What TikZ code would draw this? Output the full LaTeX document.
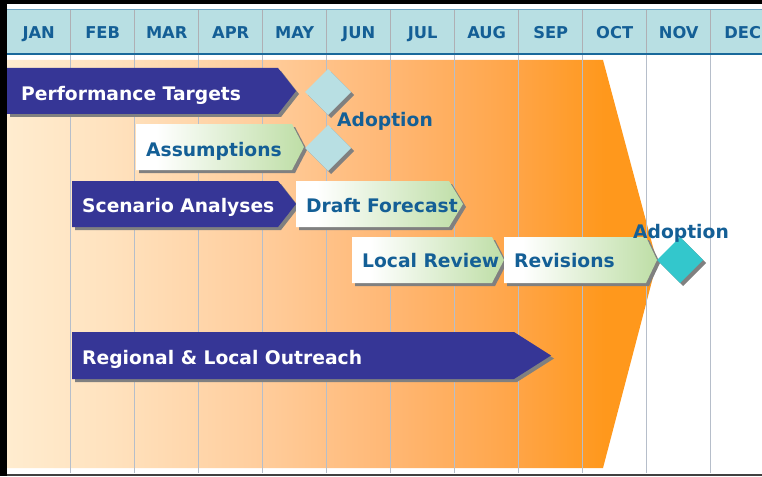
\documentclass[tikz,border=0pt]{standalone}
\usepackage{fontspec}
\setmainfont{DejaVu Sans}
\definecolor{hdrblue}{RGB}{184,223,227}
\definecolor{hdrtop}{RGB}{110,165,195}
\definecolor{hdrbot}{RGB}{25,105,155}
\definecolor{txtblue}{RGB}{20,95,150}
\definecolor{navy}{RGB}{54,54,150}
\definecolor{shadowgray}{RGB}{128,128,128}
\definecolor{grn}{RGB}{190,222,166}
\definecolor{teal}{RGB}{51,199,204}
\definecolor{gridln}{RGB}{182,190,202}
\definecolor{hdrgrid}{RGB}{175,175,180}
\definecolor{oA}{RGB}{255,236,207}
\definecolor{oB}{RGB}{255,226,190}
\definecolor{oC}{RGB}{255,206,158}
\definecolor{oD}{RGB}{255,184,118}
\definecolor{oE}{RGB}{255,165,72}
\definecolor{oF}{RGB}{255,152,28}
\pgfdeclarehorizontalshading{orangesh}{100bp}{color(0bp)=(oA); color(25bp)=(oA); color(33bp)=(oB); color(44bp)=(oC); color(54bp)=(oD); color(64bp)=(oE); color(71bp)=(oF); color(75bp)=(oF); color(100bp)=(oF)}
\pgfdeclarehorizontalshading{grnsh}{100bp}{color(0bp)=(white); color(25bp)=(white); color(31bp)=(white); color(75bp)=(grn); color(100bp)=(grn)}
\tikzset{
  navybox/.style={fill=navy},
  grnbox/.style={shading=grnsh},
  shadowbox/.style={fill=shadowgray},
  boxtxt/.style={anchor=base west, inner sep=0pt, font=\bfseries\fontsize{18.7}{22}\selectfont},
  whitetxt/.style={boxtxt, text=white},
  bluetxt/.style={boxtxt, text=txtblue},
  monthtxt/.style={anchor=base, inner sep=0pt, text=txtblue, font=\bfseries\fontsize{16.3}{19}\selectfont},
}
% arrow: #1 left, #2 top, #3 bottom, #4 shoulder, #5 tip, #6 style
\newcommand\ganttarrow[6]{%
  \pgfmathsetmacro\midy{(#2+#3)/2}%
  \path[shadowbox] (#1+3,#2+3) -- (#4+3,#2+3) -- (#5+3,\midy+3) -- (#4+3,#3+3) -- (#1+3,#3+3) -- cycle;
  \path[#6] (#1,#2) -- (#4,#2) -- (#5,\midy) -- (#4,#3) -- (#1,#3) -- cycle;
}
\newcommand\ganttdiamond[3]{%
  \path[shadowbox] (#1-23+3,#2+3) -- (#1+3,#2-23+3) -- (#1+23+3,#2+3) -- (#1+3,#2+23+3) -- cycle;
  \path[fill=#3] (#1-23,#2) -- (#1,#2-23) -- (#1+23,#2) -- (#1,#2+23) -- cycle;
}
\begin{document}
\begin{tikzpicture}[x=1pt,y=-1pt]
\useasboundingbox (0,0) rectangle (762,476);
\fill[white] (0,0) rectangle (762,476);
% orange background
\shade[shading=orangesh] (7,60) -- (603,60) -- (657,262) -- (603,468) -- (7,468) -- cycle;
% header
\fill[hdrblue] (7,10) rectangle (762,53);
\draw[hdrtop, line width=1pt] (7,10) -- (762,10);
\draw[hdrbot, line width=2pt] (7,53.7) -- (762,53.7);
\foreach \k in {0,...,10} {
  \draw[hdrgrid, line width=0.9pt] (70.7+64*\k,10.5) -- (70.7+64*\k,52.7);
  \draw[gridln, line width=0.9pt] (70.7+64*\k,54.7) -- (70.7+64*\k,473);
}
\foreach \m [count=\i from 0] in {JAN,FEB,MAR,APR,MAY,JUN,JUL,AUG,SEP,OCT,NOV,DEC}
  \node[monthtxt] (m\i) at (38.7+64*\i,39) {\m};
% frame
\fill[black] (0,0) rectangle (762,4);
\fill[black] (0,0) rectangle (7,476);
\draw[black!75, line width=2pt] (7,474.5) -- (762,474.5);
% bars
\ganttarrow{7}{68}{114}{278}{296}{navybox}
\node[whitetxt] (perf) at (21,100) {Performance Targets};
\ganttdiamond{328}{92}{hdrblue}
\node[bluetxt] (adopt1) at (337,126) {Adoption};
\ganttarrow{136}{124}{170}{292}{304}{grnbox}
\node[bluetxt] (assum) at (146,156) {Assumptions};
\ganttdiamond{328}{148}{hdrblue}
\ganttarrow{72}{181}{227}{278}{296}{navybox}
\node[whitetxt] (scen) at (82,212) {Scenario Analyses};
\ganttarrow{296}{181}{227}{449}{463}{grnbox}
\node[bluetxt] (draft) at (306,212) {Draft Forecast};
\ganttarrow{352}{237}{283}{492}{504}{grnbox}
\node[bluetxt] (local) at (362,267) {Local Review};
\ganttarrow{504}{237}{283}{646}{657}{grnbox}
\node[bluetxt] (rev) at (514,267) {Revisions};
\ganttdiamond{680}{260}{teal}
\node[bluetxt] (adopt2) at (633,238) {Adoption};
\ganttarrow{72}{332}{379}{514}{551}{navybox}
\node[whitetxt] (outreach) at (82,364) {Regional \& Local Outreach};
\end{tikzpicture}
\end{document}
